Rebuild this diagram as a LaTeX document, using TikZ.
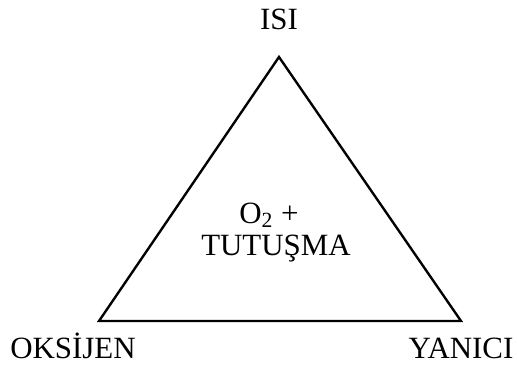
\documentclass[tikz,border=0pt]{standalone}
\usepackage{fontspec}
\setmainfont{Liberation Serif}
\usetikzlibrary{positioning}

\begin{document}
\begin{tikzpicture}[x=0.02cm,y=-0.02cm,
  lbl/.style={font=\fontsize{17.6}{21}\selectfont,inner sep=0pt,anchor=base},
  kenar/.style={line width=1.35pt,line join=miter}]
  \useasboundingbox (0,0) rectangle (517,368);
  % köşeler
  \coordinate (tepe) at (279,57);
  \coordinate (sol) at (99,321);
  \coordinate (sag) at (461,321);
  \draw[kenar] (tepe) -- (sag) -- (sol) -- cycle;
  % etiketler
  \node[lbl] (isi) at (279,30) {ISI};
  \node[lbl] (oksijen) at (73,358) {OKSİJEN};
  \node[lbl] (yanici) at (461,358) {YANICI};
  % iç yazı
  \node[lbl] (o2) at (269,223) {O\textsubscript{2} +};
  \node[lbl] (tutusma) at (276,255) {TUTUŞMA};
\end{tikzpicture}
\end{document}
